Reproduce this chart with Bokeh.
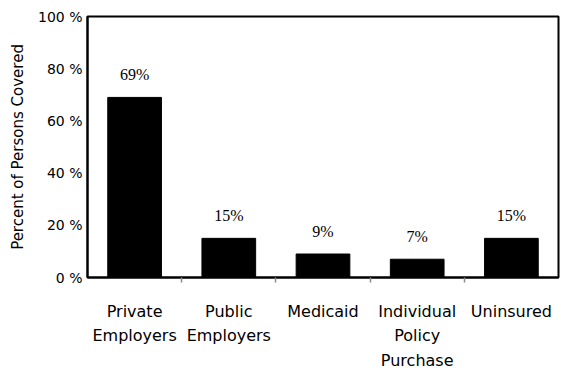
from bokeh.embed import file_html
from bokeh.models import FixedTicker, LinearAxis, PrintfTickFormatter, Range1d
from bokeh.plotting import figure
from bokeh.resources import INLINE

# Share of persons covered, by source of health coverage
categories = ["Private\nEmployers", "Public\nEmployers", "Medicaid",
              "Individual\nPolicy\nPurchase", "Uninsured"]
percent_covered = [69, 15, 9, 7, 15]
y_ticks = [0, 20, 40, 60, 80, 100]

FONT = "DejaVu Sans"

n = len(categories)
centers = [i + 0.5 for i in range(n)]
boundaries = list(range(1, n))
value_labels = [f"{v}%" for v in percent_covered]

p = figure(frame_width=471, frame_height=261, output_backend="svg", toolbar_location=None,
           x_range=Range1d(0, n), y_range=Range1d(0, 100),
           x_axis_type=None, y_axis_type=None,
           min_border_left=87, min_border_right=2,
           min_border_top=16, min_border_bottom=96)
p.background_fill_color = "white"
p.border_fill_color = "white"
p.outline_line_color = "black"
p.outline_line_width = 2

# category separators
p.xgrid.ticker = FixedTicker(ticks=boundaries)
p.xgrid.grid_line_color = "#8a8a8a"
p.xgrid.grid_line_width = 1.5
p.ygrid.grid_line_color = None

p.vbar(x=centers, top=percent_covered, width=0.57, color="black")
p.text(x=centers, y=percent_covered, text=value_labels,
       text_align="center", text_baseline="bottom", y_offset=-14,
       text_font=FONT, text_font_size="16px", text_color="black")

# y axis with percent ticks
yaxis = LinearAxis(ticker=FixedTicker(ticks=y_ticks),
                   formatter=PrintfTickFormatter(format="%d %%"))
yaxis.major_tick_out = 0
yaxis.major_tick_in = 0
yaxis.minor_tick_out = 0
yaxis.minor_tick_in = 0
yaxis.axis_line_color = "black"
yaxis.axis_line_width = 2
yaxis.major_label_standoff = 5
yaxis.major_label_text_font = FONT
yaxis.major_label_text_font_size = "14px"
yaxis.major_label_text_color = "black"
yaxis.axis_label = "Percent of Persons Covered"
yaxis.axis_label_text_font = FONT
yaxis.axis_label_text_font_size = "15px"
yaxis.axis_label_text_font_style = "normal"
yaxis.axis_label_text_color = "black"
yaxis.axis_label_standoff = 8
p.add_layout(yaxis, "left")

# x axis: labels at category centers, small ticks at separators
xaxis = LinearAxis(ticker=FixedTicker(ticks=centers, minor_ticks=boundaries))
xaxis.major_label_overrides = {c: lab for c, lab in zip(centers, categories)}
xaxis.major_tick_out = 0
xaxis.major_tick_in = 0
xaxis.minor_tick_out = 5
xaxis.minor_tick_in = 0
xaxis.minor_tick_line_color = "#8a8a8a"
xaxis.minor_tick_line_width = 1.5
xaxis.axis_line_color = "black"
xaxis.axis_line_width = 2
xaxis.major_label_standoff = 19
xaxis.major_label_text_font = FONT
xaxis.major_label_text_font_size = "16px"
xaxis.major_label_text_color = "black"
xaxis.major_label_text_line_height = 1.3
p.add_layout(xaxis, "below")

open("out.html", "w").write(file_html(p, INLINE))
